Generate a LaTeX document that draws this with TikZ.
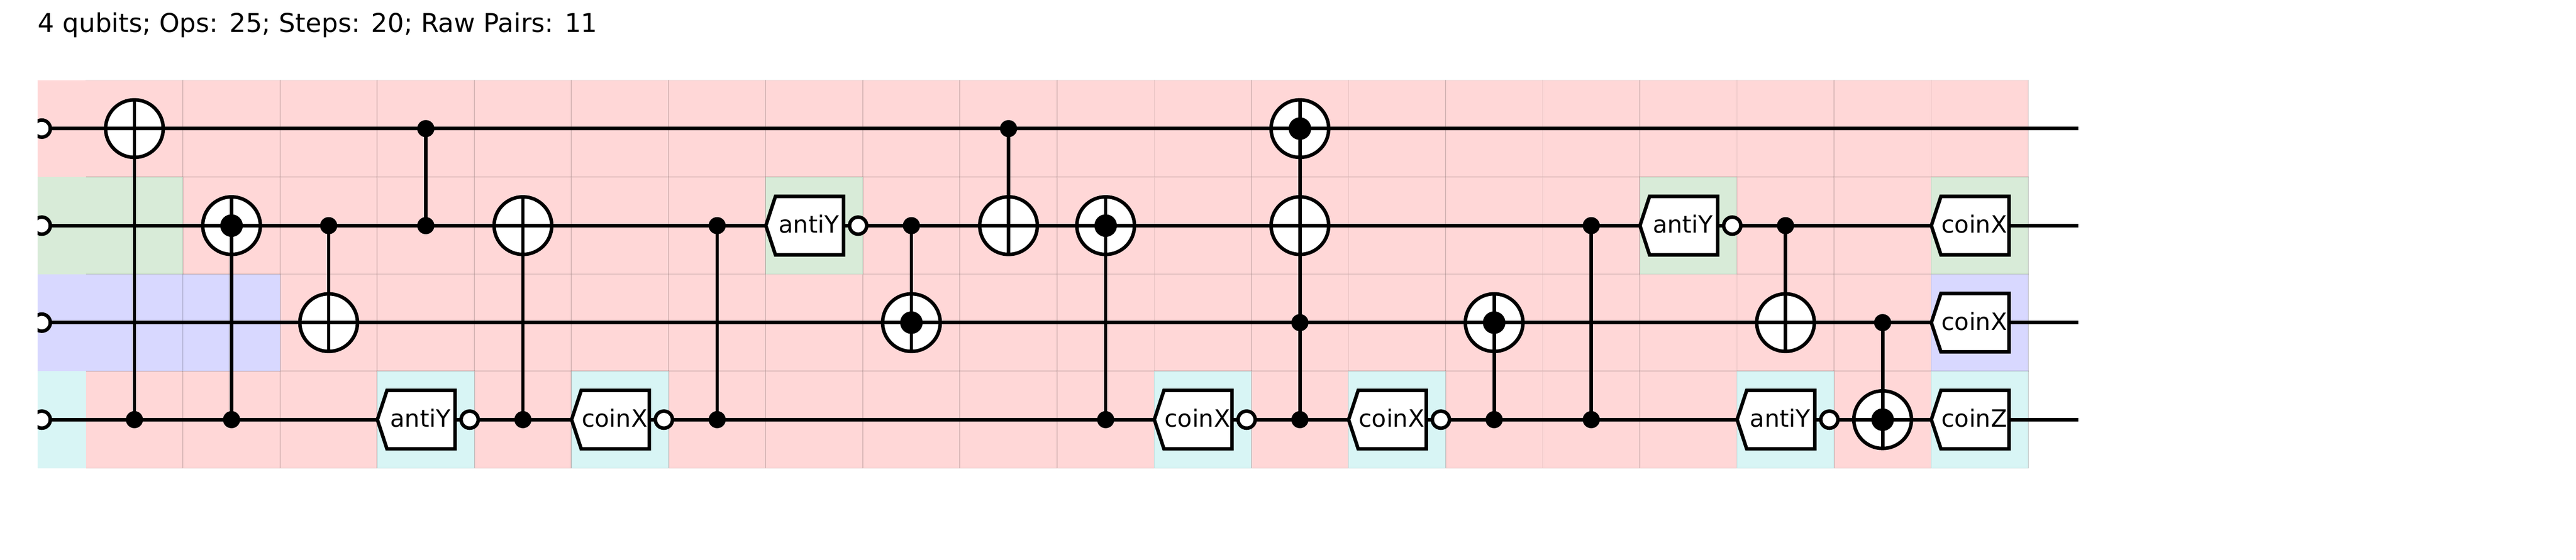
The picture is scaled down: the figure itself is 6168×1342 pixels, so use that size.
\documentclass[tikz,border=0pt]{standalone}
\usepackage{fontspec}
\setmainfont{DejaVu Sans}
\usetikzlibrary{calc}
\pgfdeclarelayer{cells}
\pgfdeclarelayer{wirelayer}
\pgfsetlayers{cells,wirelayer,main}
\definecolor{cpink}{RGB}{255,215,215}
\definecolor{cgreen}{RGB}{216,235,216}
\definecolor{cpurple}{RGB}{216,216,255}
\definecolor{ccyan}{RGB}{216,245,245}
\tikzset{
  x=0.25pt,y=-0.25pt,
  wire/.style={line width=2.1pt,black},
  link/.style={line width=2.1pt,black},
  ctrl/.style={circle,fill=black,inner sep=0pt,minimum size=10.25pt},
  xortarget/.style={circle,draw=black,fill=white,line width=2.1pt,inner sep=0pt,minimum size=34.5pt,
    path picture={\draw[line width=2.1pt] (path picture bounding box.north)--(path picture bounding box.south);
                  \draw[line width=2.1pt] (path picture bounding box.west)--(path picture bounding box.east);}},
  dottarget/.style={circle,draw=black,fill=white,line width=2.1pt,inner sep=0pt,minimum size=34.5pt,
    path picture={\draw[line width=2.1pt] (path picture bounding box.north)--(path picture bounding box.south);
                  \draw[line width=2.1pt] (path picture bounding box.west)--(path picture bounding box.east);
                  \fill[black] (path picture bounding box.center) circle[radius=27];}},
  negdot/.style={circle,draw=black,fill=white,line width=2.1pt,inner sep=0pt,minimum size=10.25pt},
  gatebox/.style={draw=black,fill=white,line width=2.1pt,line join=miter},
  gatetext/.style={anchor=base,inner sep=0pt,font=\fontsize{14.25pt}{14.25pt}\selectfont},
  celledge/.style={draw=black,draw opacity=0.10,line width=0.5pt},
}
% \cellbox{col}{row}{colour}
\newcommand{\cellbox}[3]{\path[fill=#3,celledge] ({205.6+232.55*(#1)},{192+232.5*(#2)}) rectangle ({205.6+232.55*(#1+1)},{192+232.5*(#2+1)});}
\newcommand{\colx}[1]{{205.6+232.55*(#1+0.5)}}
\newcommand{\rowy}[1]{{308.25+232.5*(#1)}}
% \gateshape{name}{col}{row}{text}
\newcommand{\gateshape}[4]{%
  \coordinate (#1) at (\colx{#2},\rowy{#3});
  \draw[gatebox] ($(#1)+(-116,0)$) -- ($(#1)+(-93,-70)$) -- ($(#1)+(70,-70)$) -- ($(#1)+(70,70)$) -- ($(#1)+(-93,70)$) -- cycle;
  \node[gatetext] (#1text) at ($(#1)+(-13,18)$) {#4};}
\newcommand{\gateneg}[4]{\gateshape{#1}{#2}{#3}{#4}\node[negdot] (#1neg) at ($(#1)+(105,0)$) {};}
\begin{document}
\begin{tikzpicture}
\useasboundingbox (0,0) rectangle (6168,1342);
\node[anchor=base west,inner sep=0pt,font=\fontsize{15.47pt}{15.47pt}\selectfont] (title) at (90,77) {4 qubits; Ops: 25; Steps: 20; Raw Pairs: 11};

\begin{pgfonlayer}{cells}
  \foreach \c in {0,...,19}\foreach \r in {0,...,3}{\cellbox{\c}{\r}{cpink}}
  \foreach \c/\r/\k in {0/1/cgreen,7/1/cgreen,16/1/cgreen,19/1/cgreen,
     0/2/cpurple,1/2/cpurple,19/2/cpurple,
     3/3/ccyan,5/3/ccyan,11/3/ccyan,13/3/ccyan,17/3/ccyan,19/3/ccyan}{\cellbox{\c}{\r}{\k}}
  \fill[cpink] (90,192) rectangle (205.6,424.5);
  \fill[cgreen] (90,424.5) rectangle (205.6,657);
  \fill[cpurple] (90,657) rectangle (205.6,889.5);
  \fill[ccyan] (90,889.5) rectangle (205.6,1122);
\end{pgfonlayer}

% wire ends
\foreach \r in {0,1,2,3}{
  \coordinate (in\r) at (100,\rowy{\r});
  \coordinate (out\r) at (4976,\rowy{\r});
}
% input markers, clipped at the left edge of the grid
\begin{scope}
  \clip (90,0) rectangle (300,1342);
  \foreach \r in {0,1,2,3}{\node[negdot] (start\r) at (in\r) {};}
\end{scope}

% operations
\node[xortarget] (a0) at (\colx{0},\rowy{0}) {}; \node[ctrl] (b0) at (\colx{0},\rowy{3}) {};
\node[dottarget] (a1) at (\colx{1},\rowy{1}) {}; \node[ctrl] (b1) at (\colx{1},\rowy{3}) {};
\node[ctrl] (a2) at (\colx{2},\rowy{1}) {}; \node[xortarget] (b2) at (\colx{2},\rowy{2}) {};
\node[ctrl] (a3) at (\colx{3},\rowy{0}) {}; \node[ctrl] (b3) at (\colx{3},\rowy{1}) {};
\gateneg{g3}{3}{3}{antiY}
\node[xortarget] (a4) at (\colx{4},\rowy{1}) {}; \node[ctrl] (b4) at (\colx{4},\rowy{3}) {};
\gateneg{g5}{5}{3}{coinX}
\node[ctrl] (a6) at (\colx{6},\rowy{1}) {}; \node[ctrl] (b6) at (\colx{6},\rowy{3}) {};
\gateneg{g7}{7}{1}{antiY}
\node[ctrl] (a8) at (\colx{8},\rowy{1}) {}; \node[dottarget] (b8) at (\colx{8},\rowy{2}) {};
\node[ctrl] (a9) at (\colx{9},\rowy{0}) {}; \node[xortarget] (b9) at (\colx{9},\rowy{1}) {};
\node[dottarget] (a10) at (\colx{10},\rowy{1}) {}; \node[ctrl] (b10) at (\colx{10},\rowy{3}) {};
\gateneg{g11}{11}{3}{coinX}
\node[dottarget] (a12) at (\colx{12},\rowy{0}) {}; \node[xortarget] (m12) at (\colx{12},\rowy{1}) {};
\node[ctrl] (n12) at (\colx{12},\rowy{2}) {}; \node[ctrl] (b12) at (\colx{12},\rowy{3}) {};
\gateneg{g13}{13}{3}{coinX}
\node[dottarget] (a14) at (\colx{14},\rowy{2}) {}; \node[ctrl] (b14) at (\colx{14},\rowy{3}) {};
\node[ctrl] (a15) at (\colx{15},\rowy{1}) {}; \node[ctrl] (b15) at (\colx{15},\rowy{3}) {};
\gateneg{g16}{16}{1}{antiY}
\node[ctrl] (a17) at (\colx{17},\rowy{1}) {}; \node[xortarget] (b17) at (\colx{17},\rowy{2}) {};
\gateneg{g17}{17}{3}{antiY}
\node[ctrl] (a18) at (\colx{18},\rowy{2}) {}; \node[dottarget] (b18) at (\colx{18},\rowy{3}) {};
\gateshape{g19a}{19}{1}{coinX}
\gateshape{g19b}{19}{2}{coinX}
\gateshape{g19c}{19}{3}{coinZ}

\begin{pgfonlayer}{wirelayer}
  \foreach \r in {0,1,2,3}{\draw[wire] (in\r) -- (out\r);}
  \foreach \n in {0,1,2,3,4,6,8,9,10,12,14,15,17,18}{\draw[link] (a\n.center) -- (b\n.center);}
\end{pgfonlayer}
\end{tikzpicture}
\end{document}
